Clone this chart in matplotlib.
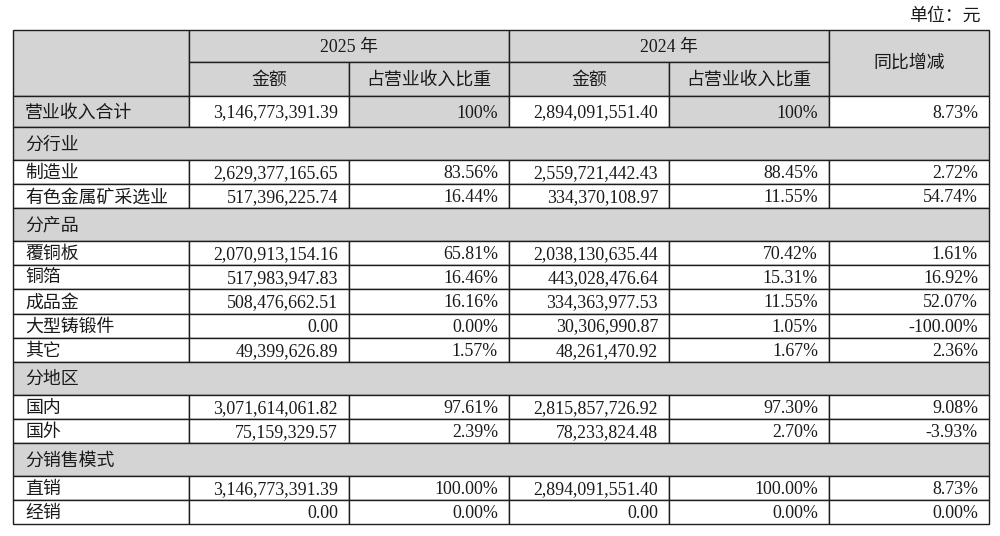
import matplotlib
matplotlib.use("Agg")
import matplotlib.pyplot as plt
from matplotlib.patches import Rectangle

plt.rcParams['font.family'] = ['Liberation Serif', 'Noto Sans CJK SC', 'DejaVu Sans']

# ---- data ----
row_labels = ["营业收入合计", "分行业", "制造业", "有色金属矿采选业", "分产品", "覆铜板", "铜箔",
              "成品金", "大型铸锻件", "其它", "分地区", "国内", "国外", "分销售模式", "直销", "经销"]
group_rows = ["分行业", "分产品", "分地区", "分销售模式"]
amount_2025 = ["3,146,773,391.39", "", "2,629,377,165.65", "517,396,225.74", "", "2,070,913,154.16",
               "517,983,947.83", "508,476,662.51", "0.00", "49,399,626.89", "", "3,071,614,061.82",
               "75,159,329.57", "", "3,146,773,391.39", "0.00"]
share_2025 = ["100%", "", "83.56%", "16.44%", "", "65.81%", "16.46%", "16.16%", "0.00%", "1.57%", "",
              "97.61%", "2.39%", "", "100.00%", "0.00%"]
amount_2024 = ["2,894,091,551.40", "", "2,559,721,442.43", "334,370,108.97", "", "2,038,130,635.44",
               "443,028,476.64", "334,363,977.53", "30,306,990.87", "48,261,470.92", "",
               "2,815,857,726.92", "78,233,824.48", "", "2,894,091,551.40", "0.00"]
share_2024 = ["100%", "", "88.45%", "11.55%", "", "70.42%", "15.31%", "11.55%", "1.05%", "1.67%", "",
              "97.30%", "2.70%", "", "100.00%", "0.00%"]
yoy_change = ["8.73%", "", "2.72%", "54.74%", "", "1.61%", "16.92%", "52.07%", "-100.00%", "2.36%", "",
              "9.08%", "-3.93%", "", "8.73%", "0.00%"]
year_headers = ["2025 年", "2024 年"]
sub_headers = ["金额", "占营业收入比重"]
yoy_header = "同比增减"
unit_text = "单位：元"

# ---- layout ----
col_edges = [13, 189, 349, 509, 669, 829, 989]
top = 30
head_h = [32, 34]
total_h = 31
group_h = 33
data_h = 24.1
GRAY = "#d4d4d4"
LINE = "#1e1e1e"
TXT = "#1a1a1a"
FS = 12.9

fig = plt.figure(figsize=(10, 5.36), dpi=100)
ax = fig.add_axes([0, 0, 1, 1])
ax.set_xlim(0, 1000)
ax.set_ylim(536, 0)
ax.axis("off")


def cell(x0, x1, y0, y1, fc):
    ax.add_patch(Rectangle((x0, y0), x1 - x0, y1 - y0, facecolor=fc, edgecolor=LINE, lw=1.0))


def txt(x, y, s, ha):
    ax.text(x, y, s, ha=ha, va="center", fontsize=FS, color=TXT)


# unit
txt(981, 16, unit_text, "right")

# header
y0 = top
y1 = top + head_h[0]
y2 = y1 + head_h[1]
cell(col_edges[0], col_edges[1], y0, y2, GRAY)
for k, yh in enumerate(year_headers):
    xa, xb = col_edges[1 + 2 * k], col_edges[3 + 2 * k]
    cell(xa, xb, y0, y1, GRAY)
    txt((xa + xb) / 2, (y0 + y1) / 2 + 1.5, yh, "center")
    for j, sh in enumerate(sub_headers):
        xs, xe = col_edges[1 + 2 * k + j], col_edges[2 + 2 * k + j]
        cell(xs, xe, y1, y2, GRAY)
        txt((xs + xe) / 2, (y1 + y2) / 2 + 1.5, sh, "center")
cell(col_edges[5], col_edges[6], y0, y2, GRAY)
txt((col_edges[5] + col_edges[6]) / 2, (y0 + y2) / 2 + 0.5, yoy_header, "center")

# body
y = y2
cols = [amount_2025, share_2025, amount_2024, share_2024, yoy_change]
for i, lab in enumerate(row_labels):
    if lab in group_rows:
        h = group_h
        cell(col_edges[0], col_edges[6], y, y + h, GRAY)
        txt(col_edges[0] + 12, y + h / 2 + 1.5, lab, "left")
    else:
        h = total_h if i == 0 else data_h
        fills = [GRAY, "white", GRAY, "white", GRAY, "white"] if i == 0 else ["white"] * 6
        for c in range(6):
            cell(col_edges[c], col_edges[c + 1], y, y + h, fills[c])
        txt(col_edges[0] + 12, y + h / 2 + 1.5, lab, "left")
        for c, vals in enumerate(cols):
            txt(col_edges[c + 2] - 11, y + h / 2 + 1.5, vals[i], "right")
    y += h

fig.savefig("out.png", dpi=100)
